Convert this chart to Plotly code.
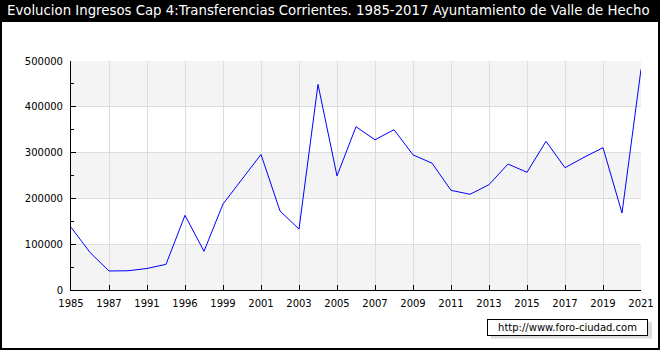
import plotly.graph_objects as go

years = ["1985", "1986", "1987", "1989", "1991", "1994", "1996", "1997", "1999", "2000",
         "2001", "2002", "2003", "2004", "2005", "2006", "2007", "2008", "2009", "2010",
         "2011", "2012", "2013", "2014", "2015", "2016", "2017", "2018", "2019", "2020", "2021"]
values = [137000, 82000, 41500, 42000, 47000, 56000, 163000, 84500, 187700, 243000,
          296000, 172500, 133000, 449000, 249000, 356500, 328000, 350000, 295000, 277000,
          217600, 209000, 230000, 275000, 257000, 324600, 267000, 289700, 310700, 168000, 481800]
tick_labels = years[::2]
y_ticks = [0, 100000, 200000, 300000, 400000, 500000]
title = "Evolucion Ingresos Cap 4:Transferencias Corrientes. 1985-2017 Ayuntamiento de Valle de Hecho"
watermark = "http://www.foro-ciudad.com"

W, H = 660, 350
L, R, T, B = 71, 19, 61, 60
pw, ph = W - L - R, H - T - B


def px(x):
    return (x - L) / pw


def py(y):
    return (H - B - y) / ph


FONT = "DejaVu Sans"

fig = go.Figure()
fig.add_trace(go.Scatter(x=years, y=values, mode="lines",
                         line=dict(color="#0000ff", width=1), hoverinfo="skip"))

shapes = []
# alternating bands
for i in range(0, len(y_ticks) - 1, 2):
    shapes.append(dict(type="rect", xref="paper", yref="y", x0=0, x1=1,
                       y0=y_ticks[i], y1=y_ticks[i + 1], fillcolor="#f4f4f4",
                       line=dict(width=0), layer="below"))
# title bar
shapes.append(dict(type="rect", xref="paper", yref="paper", x0=px(0), x1=px(W),
                   y0=py(22), y1=py(0), fillcolor="black", line=dict(width=0), layer="below"))
# frame
shapes.append(dict(type="rect", xref="paper", yref="paper", x0=px(1), x1=px(659),
                   y0=py(349), y1=py(1), fillcolor="rgba(0,0,0,0)",
                   line=dict(color="black", width=2), layer="below"))
# watermark shadow
shapes.append(dict(type="rect", xref="paper", yref="paper", x0=px(491), x1=px(652),
                   y0=py(338.5), y1=py(322), fillcolor="#dcdcdc", line=dict(width=0), layer="below"))

annotations = [
    dict(text=title, xref="paper", yref="paper", x=px(4.5), y=py(11), xanchor="left",
         yanchor="middle", showarrow=False, font=dict(family=FONT, size=13.3, color="white")),
    dict(text=watermark, xref="paper", yref="paper", x=px(567), y=py(327.3), xanchor="center",
         yanchor="middle", showarrow=False, bgcolor="white", bordercolor="black",
         borderwidth=1, borderpad=1, width=157, height=13,
         font=dict(family=FONT, size=10, color="black")),
]

fig.update_layout(
    template="none",
    width=W, height=H, autosize=False, margin=dict(l=L, r=R, t=T, b=B, pad=0, autoexpand=False),
    paper_bgcolor="white", plot_bgcolor="white", showlegend=False,
    shapes=shapes, annotations=annotations,
    font=dict(family=FONT, size=10, color="black"),
)
fig.update_xaxes(type="category", range=[0, len(years) - 1], tickmode="array",
                 tickvals=tick_labels, ticktext=tick_labels, ticks="inside", ticklen=5,
                 tickcolor="black", showgrid=True, gridcolor="#dddddd", gridwidth=1,
                 showline=True, linecolor="black", linewidth=1, zeroline=False,
                 automargin=False, ticklabelstandoff=4, tickfont=dict(family=FONT, size=10))
fig.update_yaxes(range=[0, 500000], tickmode="array", tickvals=y_ticks,
                 ticktext=[str(v) for v in y_ticks], ticks="inside", ticklen=5,
                 tickcolor="black", showgrid=True, gridcolor="#dddddd", gridwidth=1,
                 showline=True, linecolor="black", linewidth=1, zeroline=False,
                 automargin=False, ticklabelstandoff=5,
                 minor=dict(dtick=50000, tick0=0, ticks="inside", ticklen=3,
                            tickcolor="black", showgrid=False),
                 tickfont=dict(family=FONT, size=10))

fig.write_html("out.html", config={"displayModeBar": False, "responsive": False},
               post_script="document.documentElement.style.overflow='hidden';"
                           "document.body.style.margin='0';document.body.style.overflow='hidden';")
